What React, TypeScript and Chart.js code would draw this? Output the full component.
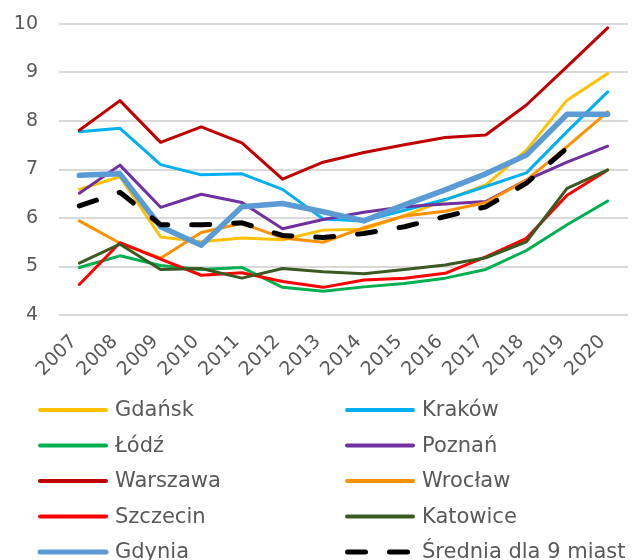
import React, { useEffect, useRef } from "react";
import { Chart, registerables } from "chart.js";

Chart.register(...registerables);

const years = ["2007", "2008", "2009", "2010", "2011", "2012", "2013", "2014", "2015", "2016", "2017", "2018", "2019", "2020"];

const gdansk = [6.59, 6.85, 5.61, 5.51, 5.59, 5.55, 5.75, 5.77, 6.05, 6.37, 6.68, 7.40, 8.43, 8.98];
const krakow = [7.78, 7.85, 7.10, 6.89, 6.91, 6.59, 5.98, 5.94, 6.16, 6.38, 6.65, 6.93, 7.78, 8.60];
const lodz = [4.98, 5.22, 5.02, 4.94, 4.98, 4.57, 4.49, 4.58, 4.65, 4.76, 4.94, 5.33, 5.86, 6.35];
const poznan = [6.51, 7.09, 6.22, 6.49, 6.32, 5.78, 5.97, 6.12, 6.23, 6.29, 6.34, 6.78, 7.15, 7.48];
const warszawa = [7.81, 8.42, 7.56, 7.88, 7.55, 6.80, 7.15, 7.35, 7.51, 7.66, 7.71, 8.33, 9.12, 9.92];
const wroclaw = [5.94, 5.48, 5.17, 5.70, 5.89, 5.59, 5.50, 5.80, 6.04, 6.14, 6.32, 6.78, 7.47, 8.19];
const szczecin = [4.63, 5.49, 5.15, 4.82, 4.87, 4.69, 4.57, 4.72, 4.76, 4.86, 5.20, 5.58, 6.47, 6.99];
const katowice = [5.07, 5.46, 4.94, 4.96, 4.76, 4.96, 4.89, 4.85, 4.94, 5.03, 5.18, 5.51, 6.61, 6.99];
const gdynia = [6.88, 6.91, 5.82, 5.44, 6.23, 6.30, 6.13, 5.94, 6.27, 6.58, 6.91, 7.30, 8.14, 8.14];
const srednia = [6.25, 6.53, 5.86, 5.86, 5.90, 5.64, 5.60, 5.68, 5.82, 6.03, 6.23, 6.72, 7.44, null];

const seriesNames = ["Gdańsk", "Kraków", "Łódź", "Poznań", "Warszawa", "Wrocław", "Szczecin", "Katowice", "Gdynia", "Średnia dla 9 miast"];
const seriesValues = [gdansk, krakow, lodz, poznan, warszawa, wroclaw, szczecin, katowice, gdynia, srednia];
const seriesColors = ["#FFC000", "#00B0F0", "#00B050", "#7030A0", "#C00000", "#FF9000", "#FF0000", "#3B5A22", "#5B9BD5", "#000000"];

const titleLines = ["Cena metra kwadratowego mieszkania w relacji do", "przeciętnej pensji (w latach pracy)"];

const yMin = 4;
const yMax = 10;
const yStep = 1;

const FONT = "'DejaVu Sans', Verdana, sans-serif";
const GREY = "#595959";
const SHIFT = 30;
const CANVAS_W = 633;
const CANVAS_H = 600;

const titlePlugin = {
  id: "cutTitle",
  afterDraw(chart: any) {
    const ctx = chart.ctx;
    ctx.save();
    ctx.fillStyle = GREY;
    ctx.font = `bold 21px ${FONT}`;
    ctx.textAlign = "center";
    ctx.textBaseline = "alphabetic";
    const base = SHIFT - 5;
    ctx.fillText(titleLines[1], 316, base);
    ctx.fillText(titleLines[0], 316, base - 27);
    ctx.restore();
  },
};

// rotated category labels, placed at the x scale's own tick pixels
const xLabelPlugin = {
  id: "rotatedXLabels",
  afterDraw(chart: any) {
    const ctx = chart.ctx;
    const xs = chart.scales.x;
    const top = chart.chartArea.bottom + 17;
    ctx.save();
    ctx.fillStyle = GREY;
    ctx.font = `19px ${FONT}`;
    ctx.textAlign = "right";
    ctx.textBaseline = "top";
    (chart.data.labels as string[]).forEach((lab, i) => {
      const px = xs.getPixelForTick(i);
      ctx.save();
      ctx.translate(px - 12, top);
      ctx.rotate(-Math.PI / 4);
      ctx.fillText(lab, 0, 0);
      ctx.restore();
    });
    ctx.restore();
  },
};

const legendPlugin = {
  id: "twoColLegend",
  afterDraw(chart: any) {
    const ctx = chart.ctx;
    ctx.save();
    chart.data.datasets.forEach((ds: any, i: number) => {
      const col = i % 2;
      const row = Math.floor(i / 2);
      const x0 = col === 0 ? 38 : 345;
      const y = 410 + SHIFT + row * 35.5;
      ctx.beginPath();
      ctx.strokeStyle = ds.borderColor;
      ctx.lineWidth = ds.borderDash ? 5 : i === 8 ? 5 : 4;
      ctx.lineCap = "round";
      if (ds.borderDash) {
        ctx.setLineDash(ds.borderDash);
        ctx.moveTo(x0 + 2.5, y);
        ctx.lineTo(x0 + 62.5, y);
      } else {
        ctx.setLineDash([]);
        ctx.moveTo(x0 + 2, y);
        ctx.lineTo(x0 + 68, y);
      }
      ctx.stroke();
      ctx.setLineDash([]);
      ctx.fillStyle = GREY;
      ctx.font = `21px ${FONT}`;
      ctx.textAlign = "left";
      ctx.textBaseline = "middle";
      ctx.fillText(ds.label, x0 + 77, y + 1);
    });
    ctx.restore();
  },
};

export default function App() {
  const ref = useRef<HTMLCanvasElement | null>(null);

  useEffect(() => {
    if (!ref.current) return;
    const n = seriesNames.length;
    const datasets = seriesNames.map((name, i) => {
      const isAvg = i === n - 1;
      const isGdynia = i === 8;
      const ds: any = {
        label: name,
        data: seriesValues[i],
        borderColor: seriesColors[i],
        backgroundColor: seriesColors[i],
        borderWidth: isAvg ? 5 : isGdynia ? 5.5 : 3,
        pointRadius: 0,
        pointHoverRadius: 0,
        tension: 0,
        fill: false,
        borderCapStyle: "round",
        borderJoinStyle: "round",
        spanGaps: false,
        order: n - i,
      };
      if (isAvg) ds.borderDash = [18, 24];
      return ds;
    });

    const chart = new Chart(ref.current, {
      type: "line",
      data: { labels: years, datasets },
      options: {
        responsive: false,
        animation: false,
        devicePixelRatio: 1,
        layout: { padding: { top: 24 + SHIFT, left: 0, right: 5, bottom: 175 } },
        plugins: {
          legend: { display: false },
          title: { display: false },
          tooltip: { enabled: false },
        },
        scales: {
          x: {
            offset: true,
            grid: { display: false, drawTicks: false },
            border: { display: false },
            ticks: { display: false, autoSkip: false },
            afterFit: (scale: any) => {
              scale.height = 80;
            },
          },
          y: {
            min: yMin,
            max: yMax,
            grid: { color: "#D9D9D9", lineWidth: 2, drawTicks: false },
            border: { display: false },
            ticks: {
              stepSize: yStep,
              color: GREY,
              font: { family: FONT, size: 19 },
              padding: 21,
            },
            afterFit: (scale: any) => {
              scale.width = 59;
            },
          },
        },
      },
      plugins: [titlePlugin, xLabelPlugin, legendPlugin],
    });
    return () => chart.destroy();
  }, []);

  return (
    <div style={{ position: "absolute", left: 0, top: -SHIFT, width: CANVAS_W, height: CANVAS_H, background: "#fff" }}>
      <canvas ref={ref} width={CANVAS_W} height={CANVAS_H} style={{ display: "block", width: CANVAS_W, height: CANVAS_H }} />
    </div>
  );
}
